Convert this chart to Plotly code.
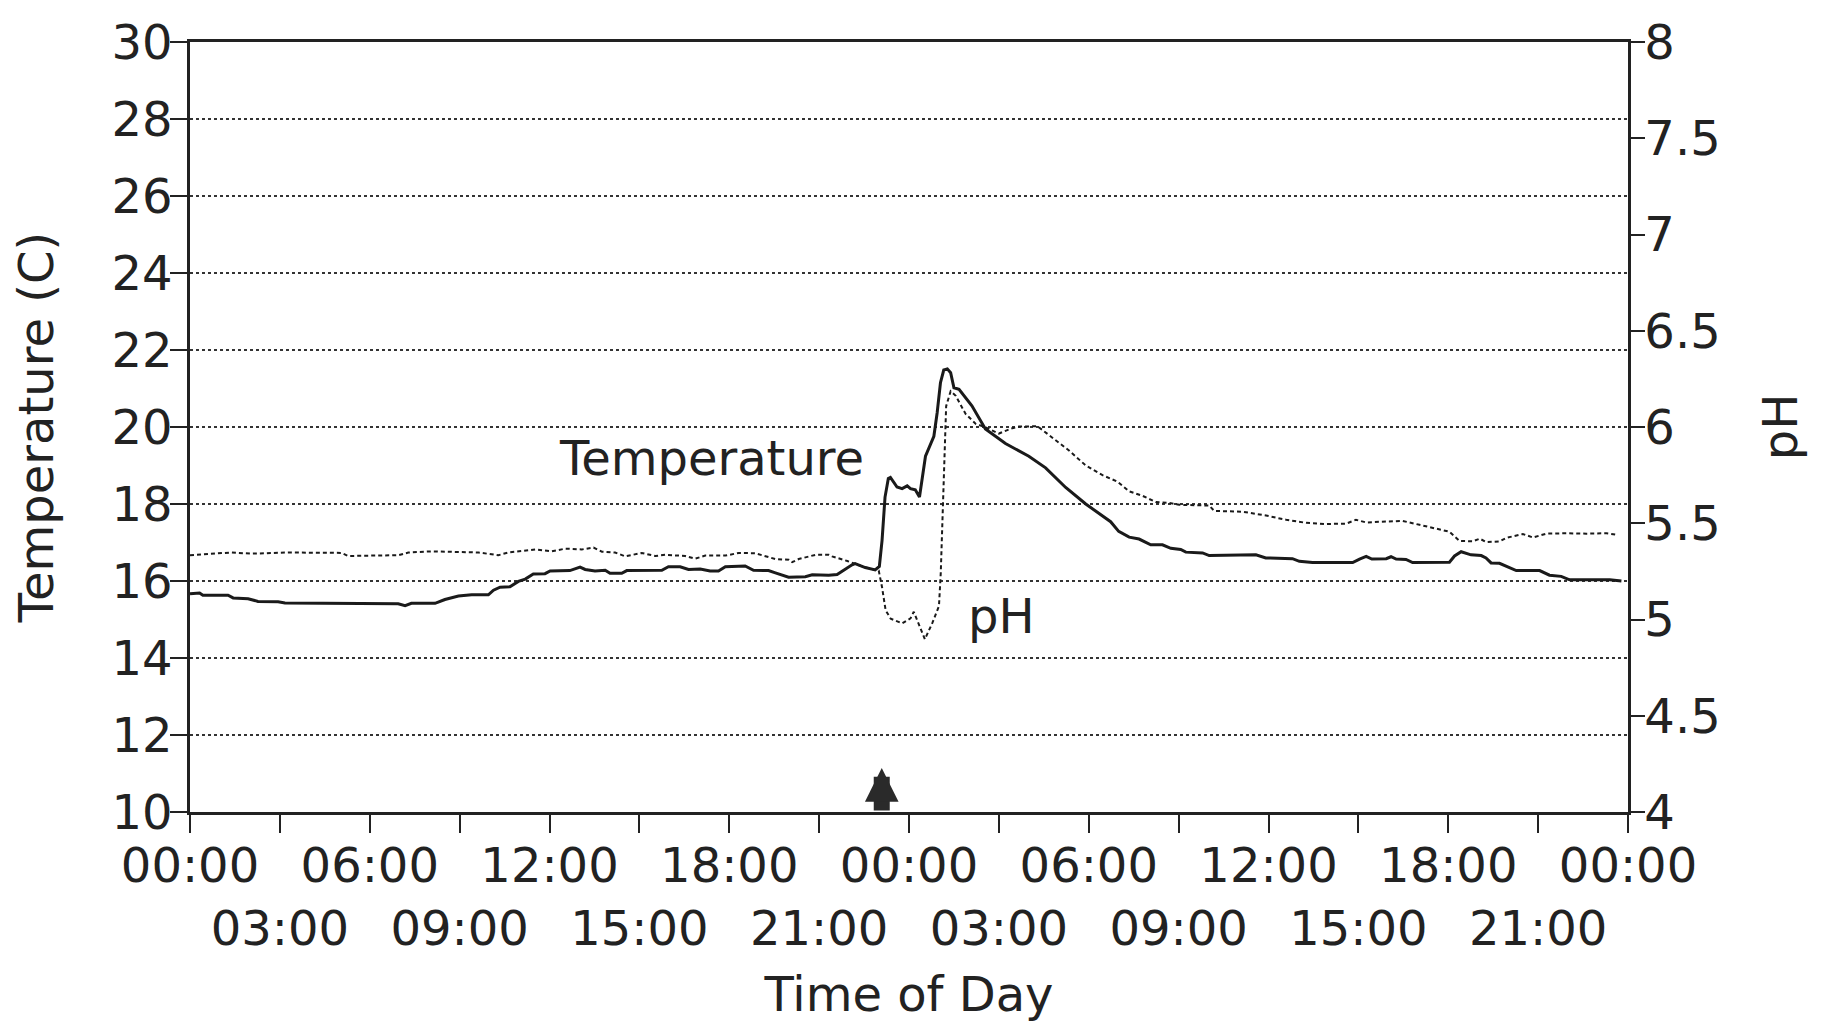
import plotly.graph_objects as go

# ---- data (hours from start, values) ----
temp_hours = [0.0, 0.32, 0.43, 1.27, 1.44, 1.94, 2.27, 2.94, 3.17, 6.95, 7.18, 7.39, 8.18, 8.51,
              8.96, 9.4, 9.96, 10.13, 10.35, 10.68, 10.96, 11.19, 11.46, 11.85, 12.02, 12.68,
              13.02, 13.19, 13.52, 13.86, 14.02, 14.41, 14.58, 15.75, 15.97, 16.36, 16.64, 17.03,
              17.36, 17.64, 17.87, 18.53, 18.81, 19.31, 19.54, 19.98, 20.54, 20.77, 21.32, 21.6,
              22.1, 22.2, 22.54, 22.87, 23.01, 23.1, 23.2, 23.31, 23.38, 23.6, 23.77, 23.94, 24.05,
              24.21, 24.35, 24.43, 24.55, 24.83, 24.94, 25.05, 25.16, 25.28, 25.39, 25.5, 25.67,
              26.1, 26.55, 27.22, 28.0, 28.56, 29.23, 29.9, 30.35, 30.73, 31.0, 31.35, 31.68,
              32.07, 32.46, 32.74, 33.07, 33.24, 33.8, 34.02, 35.58, 35.91, 36.8, 37.03, 37.47,
              38.81, 39.04, 39.26, 39.45, 39.93, 40.09, 40.26, 40.59, 40.81, 42.04, 42.21, 42.43,
              42.76, 43.1, 43.26, 43.43, 43.71, 44.27, 45.05, 45.38, 45.77, 46.05, 47.39, 47.78]
temp_c = [15.67, 15.69, 15.63, 15.63, 15.56, 15.54, 15.47, 15.46, 15.43, 15.41, 15.36, 15.42, 15.42, 15.52,
          15.61, 15.64, 15.64, 15.76, 15.84, 15.85, 15.99, 16.05, 16.18, 16.19, 16.26, 16.27,
          16.36, 16.30, 16.26, 16.28, 16.20, 16.20, 16.27, 16.28, 16.37, 16.37, 16.30, 16.31,
          16.26, 16.26, 16.37, 16.39, 16.28, 16.27, 16.21, 16.10, 16.11, 16.16, 16.15, 16.17,
          16.42, 16.45, 16.35, 16.29, 16.38, 17.05, 18.18, 18.66, 18.69, 18.44, 18.40, 18.47, 18.40,
          18.37, 18.18, 18.63, 19.24, 19.76, 20.37, 21.15, 21.48, 21.51, 21.41, 21.02, 20.98,
          20.55, 19.95, 19.57, 19.24, 18.94, 18.43, 18.00, 17.75, 17.54, 17.29, 17.14, 17.09,
          16.94, 16.94, 16.85, 16.82, 16.75, 16.73, 16.66, 16.68, 16.60, 16.58, 16.51, 16.48,
          16.48, 16.57, 16.64, 16.57, 16.58, 16.63, 16.57, 16.56, 16.48, 16.49, 16.65, 16.76,
          16.68, 16.66, 16.60, 16.47, 16.46, 16.27, 16.27, 16.15, 16.12, 16.03, 16.03, 16.00]

ph_hours = [0.0, 1.37, 2.04, 3.28, 5.05, 5.28, 6.95, 7.29, 8.05, 9.63, 10.29, 10.63, 11.52, 12.08,
            12.52, 13.08, 13.47, 13.75, 14.19, 14.53, 15.08, 15.53, 15.87, 16.53, 16.86, 17.2,
            17.87, 18.32, 18.87, 19.21, 19.54, 19.99, 20.1, 20.32, 20.88, 21.32, 21.43, 21.94,
            22.22, 22.55, 22.99, 23.1, 23.22, 23.39, 23.77, 24.05, 24.16, 24.27, 24.53, 24.78,
            25.0, 25.06, 25.13, 25.2, 25.24, 25.39, 25.56, 25.89, 26.23, 26.56, 27.0, 27.45,
            27.67, 28.29, 28.79, 29.34, 29.9, 30.46, 30.96, 31.35, 31.8, 32.24, 32.69, 33.02,
            34.02, 34.19, 35.14, 35.92, 36.59, 37.26, 37.92, 38.59, 38.92, 39.26, 39.71, 40.48,
            41.04, 41.49, 42.04, 42.38, 42.82, 43.05, 43.27, 43.72, 43.94, 44.49, 44.83, 45.27,
            45.94, 46.61, 47.28, 47.67]
ph_values = [5.334, 5.348, 5.342, 5.348, 5.346, 5.330, 5.334, 5.348, 5.354, 5.348, 5.334, 5.348, 5.364, 5.354,
             5.368, 5.364, 5.374, 5.352, 5.348, 5.328, 5.346, 5.330, 5.336, 5.330, 5.316, 5.332,
             5.332, 5.346, 5.344, 5.328, 5.314, 5.310, 5.298, 5.314, 5.336, 5.336, 5.328, 5.304,
             5.290, 5.270, 5.254, 5.168, 5.048, 5.004, 4.980, 5.006, 5.040, 4.998, 4.898, 4.982,
             5.070, 5.242, 5.588, 5.936, 6.108, 6.186, 6.162, 6.068, 6.016, 5.998, 5.966, 5.994,
             6.002, 6.004, 5.944, 5.878, 5.800, 5.750, 5.716, 5.666, 5.642, 5.610, 5.606, 5.596,
             5.592, 5.564, 5.560, 5.540, 5.518, 5.502, 5.496, 5.498, 5.518, 5.504, 5.508, 5.512,
             5.492, 5.476, 5.456, 5.408, 5.406, 5.420, 5.402, 5.406, 5.424, 5.444, 5.426, 5.446,
             5.448, 5.446, 5.448, 5.440]

x_tick_hours = list(range(0, 49, 3))
x_tick_labels = ["00:00", "<br>03:00", "06:00", "<br>09:00", "12:00", "<br>15:00", "18:00",
                 "<br>21:00", "00:00", "<br>03:00", "06:00", "<br>09:00", "12:00", "<br>15:00",
                 "18:00", "<br>21:00", "00:00"]
temp_ticks = [10, 12, 14, 16, 18, 20, 22, 24, 26, 28, 30]
ph_ticks = [4, 4.5, 5, 5.5, 6, 6.5, 7, 7.5, 8]
ph_tick_labels = ["4", "4.5", "5", "5.5", "6", "6.5", "7", "7.5", "8"]
event_hour = 23.09

FONT = "DejaVu Sans, Liberation Sans, Arial, sans-serif"
INK = "#222222"

fig = go.Figure()
fig.add_trace(go.Scatter(x=temp_hours, y=temp_c, mode="lines", name="Temperature",
                         line=dict(color="#1a1a1a", width=3), yaxis="y"))
fig.add_trace(go.Scatter(x=ph_hours, y=ph_values, mode="lines", name="pH",
                         line=dict(color="#1a1a1a", width=2, dash="4px,3px"), yaxis="y2"))

fig.update_layout(
    width=1826, height=1029,
    margin=dict(l=190, r=198, t=42, b=217),
    paper_bgcolor="white", plot_bgcolor="white",
    showlegend=False,
    font=dict(family=FONT, size=48, color=INK),
    xaxis=dict(
        range=[0, 48], tickmode="array", tickvals=x_tick_hours, ticktext=x_tick_labels,
        tickangle=0, ticklabelstandoff=-8,
        ticks="outside", ticklen=18, tickwidth=2, tickcolor=INK,
        showline=True, linewidth=2.5, linecolor=INK, mirror=True,
        showgrid=False, zeroline=False, automargin=False,
        tickfont=dict(family=FONT, size=48, color=INK),
        title=dict(text="Time of Day", standoff=23, font=dict(family=FONT, size=48, color=INK)),
    ),
    yaxis=dict(
        range=[10, 30], tickmode="array", tickvals=temp_ticks, ticklabelstandoff=-12,
        ticks="outside", ticklen=17, tickwidth=2, tickcolor=INK,
        showline=True, linewidth=2.5, linecolor=INK,
        showgrid=True, gridcolor="#333333", gridwidth=1.8, griddash="dot",
        zeroline=False, automargin=False,
        tickfont=dict(family=FONT, size=48, color=INK),
        title=dict(text="Temperature (C)", standoff=43, font=dict(family=FONT, size=48, color=INK)),
    ),
    yaxis2=dict(
        range=[4, 8], overlaying="y", side="right", tickmode="array",
        tickvals=ph_ticks, ticktext=ph_tick_labels, ticklabelstandoff=-10,
        ticks="outside", ticklen=14, tickwidth=2, tickcolor=INK,
        showline=True, linewidth=2.5, linecolor=INK,
        showgrid=False, zeroline=False, automargin=False,
        tickfont=dict(family=FONT, size=48, color=INK),
        title=dict(text="pH", standoff=44, font=dict(family=FONT, size=48, color=INK)),
    ),
)

# series labels
fig.add_annotation(x=17.41, y=19.2, xref="x", yref="y", text="Temperature", showarrow=False,
                   font=dict(family=FONT, size=48, color=INK))
fig.add_annotation(x=27.1, y=15.1, xref="x", yref="y", text="pH", showarrow=False,
                   font=dict(family=FONT, size=48, color=INK))

# event arrow
fig.add_annotation(x=event_hour, y=11.14, xref="x", yref="y",
                   ax=event_hour, ay=10, axref="x", ayref="y",
                   text="", showarrow=True, arrowhead=2, arrowsize=0.42, arrowwidth=16,
                   arrowcolor="#2a2a2a")

fig.write_html("out.html")
